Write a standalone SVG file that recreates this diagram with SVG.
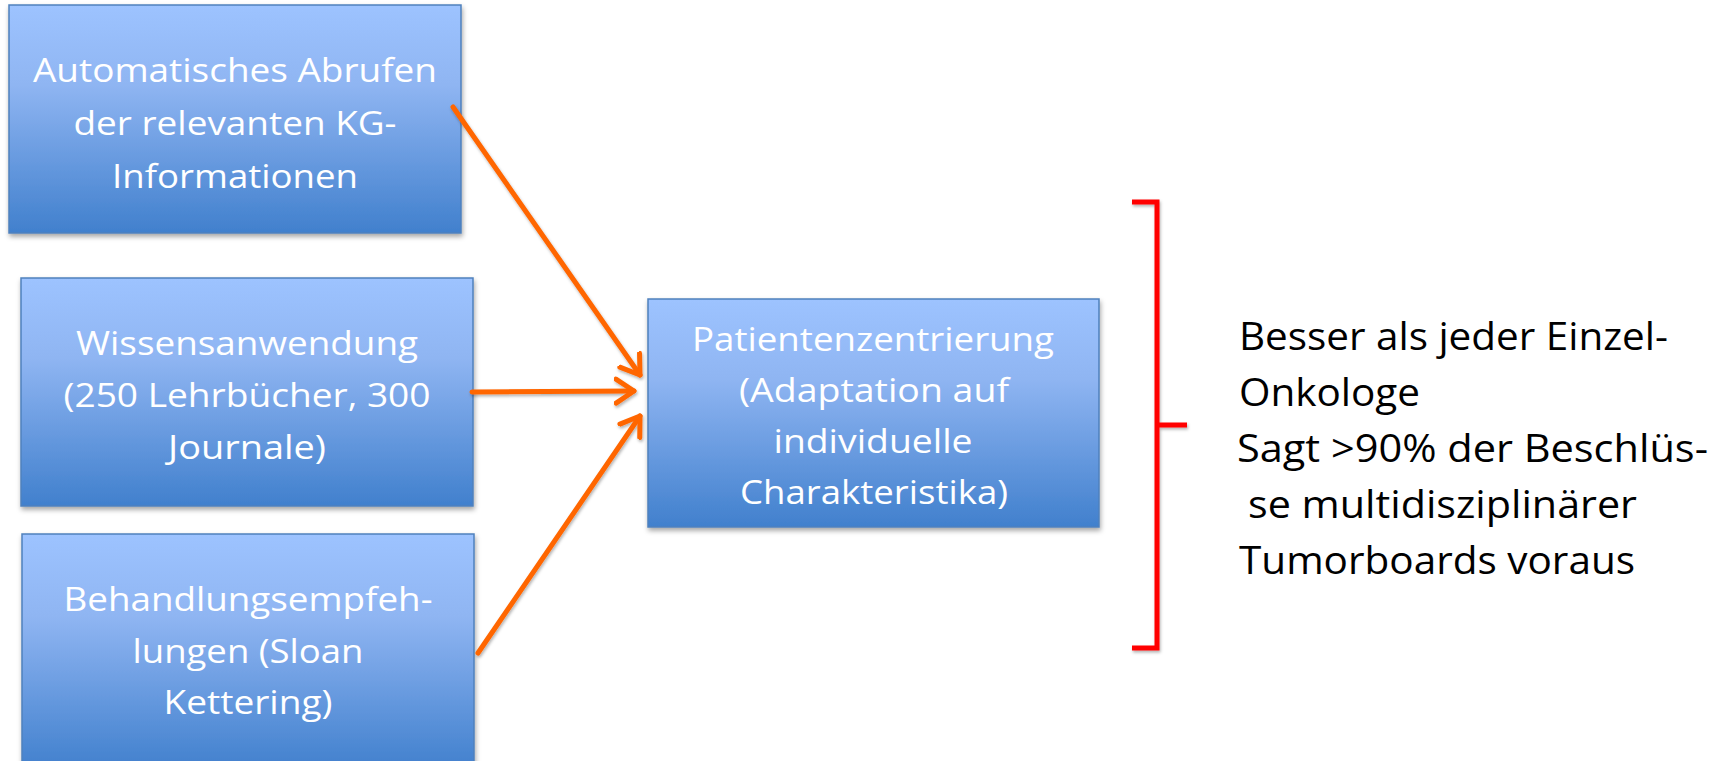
<svg xmlns="http://www.w3.org/2000/svg" width="1716" height="761" viewBox="0 0 1716 761">
<defs>
<linearGradient id="boxGrad" x1="0" y1="0" x2="0" y2="1">
<stop offset="0" stop-color="#9DC3FF"/>
<stop offset="0.35" stop-color="#8FB5F2"/>
<stop offset="1" stop-color="#4180CD"/>
</linearGradient>
<filter id="shadow" x="-10%" y="-10%" width="120%" height="130%">
<feDropShadow dx="1" dy="3" stdDeviation="2.5" flood-color="#000" flood-opacity="0.35"/>
</filter>
<filter id="lshadow" filterUnits="userSpaceOnUse" x="0" y="0" width="1716" height="761">
<feDropShadow dx="1" dy="2" stdDeviation="1.5" flood-color="#000" flood-opacity="0.3"/>
</filter>
<marker id="arrow" markerUnits="userSpaceOnUse" markerWidth="30" markerHeight="30" refX="20" refY="15" orient="auto" viewBox="0 0 30 30">
<path d="M2,3 L20,15 L2,27" fill="none" stroke="#FF6600" stroke-width="5" stroke-linecap="round" stroke-linejoin="round"/>
</marker>
</defs>
<style>
.box { fill: url(#boxGrad); stroke: #4F81BD; stroke-width: 1.5; filter: url(#shadow); }
.bt { font-family: "Open Sans", "Noto Sans", sans-serif; font-size: 32px; fill: #FFFFFF; text-anchor: middle; }
.rt { font-family: "Open Sans", "Noto Sans", sans-serif; font-size: 38px; fill: #000000; }
.conn { fill: none; stroke: #FF6600; stroke-width: 5; stroke-linecap: round; marker-end: url(#arrow); }
.brk { fill: none; stroke: #FF0000; stroke-width: 5; }
</style>
<rect width="1716" height="761" fill="#FFFFFF"/>

<g id="node-abrufen">
<rect class="box" x="9" y="5" width="452" height="228"/>
<text class="bt" x="235" y="82" textLength="404" lengthAdjust="spacingAndGlyphs">Automatisches Abrufen</text>
<text class="bt" x="235" y="135" textLength="323" lengthAdjust="spacingAndGlyphs">der relevanten KG-</text>
<text class="bt" x="235" y="188" textLength="246" lengthAdjust="spacingAndGlyphs">Informationen</text>
</g>

<g id="node-wissen">
<rect class="box" x="21" y="278" width="452" height="228"/>
<text class="bt" x="247" y="355" textLength="342" lengthAdjust="spacingAndGlyphs">Wissensanwendung</text>
<text class="bt" x="247" y="407" textLength="367" lengthAdjust="spacingAndGlyphs">(250 Lehrbücher, 300</text>
<text class="bt" x="247" y="459" textLength="158" lengthAdjust="spacingAndGlyphs">Journale)</text>
</g>

<g id="node-behandlung">
<rect class="box" x="22" y="534" width="452" height="236"/>
<text class="bt" x="248" y="611" textLength="369" lengthAdjust="spacingAndGlyphs">Behandlungsempfeh-</text>
<text class="bt" x="248" y="663" textLength="231" lengthAdjust="spacingAndGlyphs">lungen (Sloan</text>
<text class="bt" x="248" y="714" textLength="169" lengthAdjust="spacingAndGlyphs">Kettering)</text>
</g>

<g id="node-patient">
<rect class="box" x="648" y="299" width="451" height="228"/>
<text class="bt" x="873" y="351" textLength="362" lengthAdjust="spacingAndGlyphs">Patientenzentrierung</text>
<text class="bt" x="874" y="402" textLength="270" lengthAdjust="spacingAndGlyphs">(Adaptation auf</text>
<text class="bt" x="873" y="453" textLength="199" lengthAdjust="spacingAndGlyphs">individuelle</text>
<text class="bt" x="874" y="504" textLength="268" lengthAdjust="spacingAndGlyphs">Charakteristika)</text>
</g>

<g id="connectors" filter="url(#lshadow)">
<line class="conn" x1="453" y1="107" x2="640" y2="375"/>
<line class="conn" x1="472" y1="392" x2="634" y2="391"/>
<line class="conn" x1="478" y1="653" x2="640" y2="416"/>
</g>

<g id="bracket" filter="url(#lshadow)">
<path class="brk" d="M1132,202 L1157,202 L1157,648 L1132,648 M1157,425 L1187,425"/>
</g>

<g id="summary">
<text class="rt" x="1239" y="350" textLength="429" lengthAdjust="spacingAndGlyphs">Besser als jeder Einzel-</text>
<text class="rt" x="1239" y="406" textLength="181" lengthAdjust="spacingAndGlyphs">Onkologe</text>
<text class="rt" x="1237" y="462" textLength="471" lengthAdjust="spacingAndGlyphs">Sagt &gt;90% der Beschlüs-</text>
<text class="rt" x="1248" y="518" textLength="389" lengthAdjust="spacingAndGlyphs">se multidisziplinärer</text>
<text class="rt" x="1239" y="574" textLength="396" lengthAdjust="spacingAndGlyphs">Tumorboards voraus</text>
</g>
</svg>
